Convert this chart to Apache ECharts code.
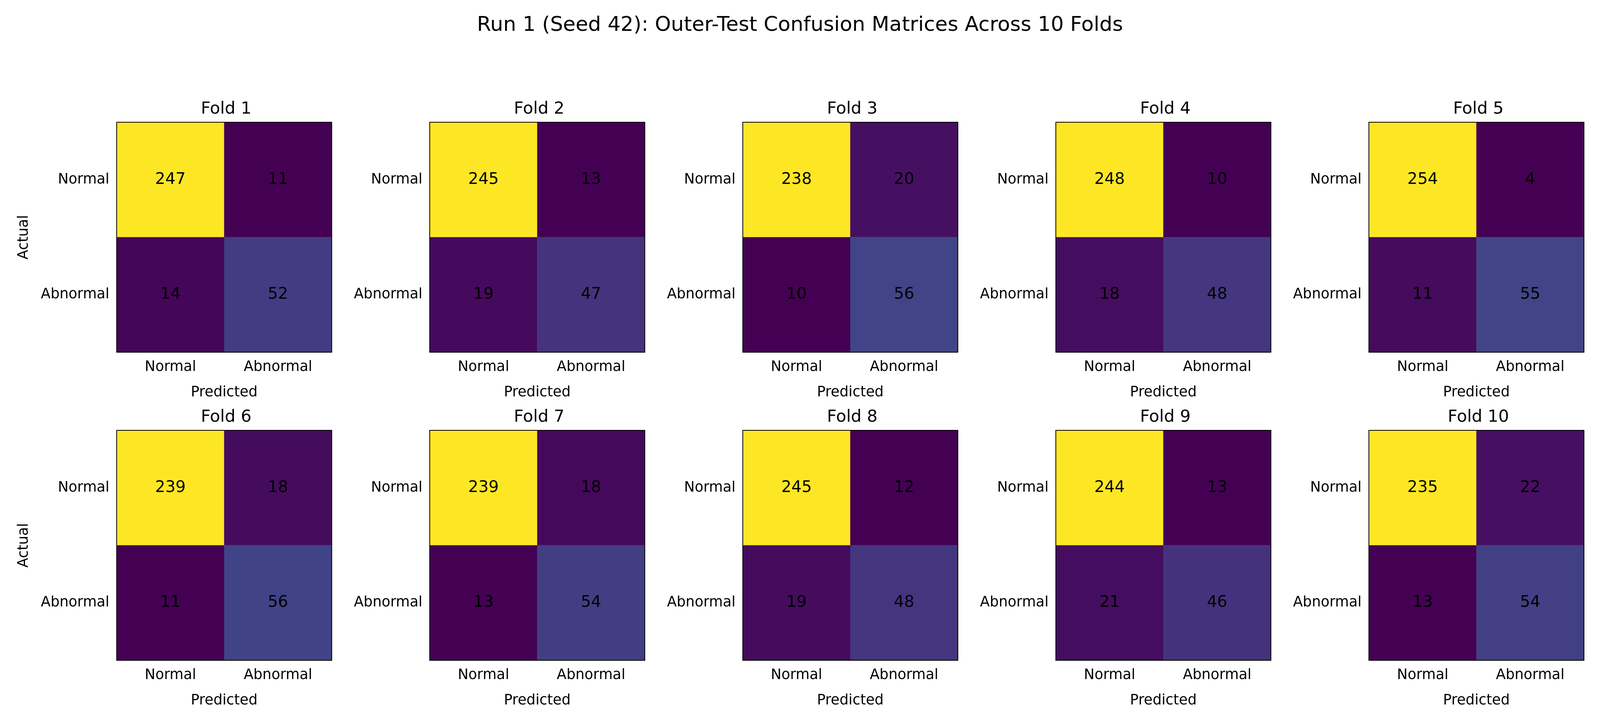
<!DOCTYPE html>
<html>
<head>
    <meta charset="utf-8">
    <title>Confusion Matrices</title>
    <script src="https://cdn.jsdelivr.net/npm/echarts@6/dist/echarts.min.js"></script>
    <style>html,body{margin:0;padding:0;background:#fff;overflow:hidden;}</style>
</head>
<body>
    <div id="main" style="width:100vw;height:100vh;"></div>
    <script type="text/javascript">
        var classes = ['Normal', 'Abnormal'];
        var foldNames = ['Fold 1', 'Fold 2', 'Fold 3', 'Fold 4', 'Fold 5',
                         'Fold 6', 'Fold 7', 'Fold 8', 'Fold 9', 'Fold 10'];
        // [[TN, FP], [FN, TP]] per fold
        var fold1 = [[247, 11], [14, 52]];
        var fold2 = [[245, 13], [19, 47]];
        var fold3 = [[238, 20], [10, 56]];
        var fold4 = [[248, 10], [18, 48]];
        var fold5 = [[254, 4], [11, 55]];
        var fold6 = [[239, 18], [11, 56]];
        var fold7 = [[239, 18], [13, 54]];
        var fold8 = [[245, 12], [19, 48]];
        var fold9 = [[244, 13], [21, 46]];
        var fold10 = [[235, 22], [13, 54]];
        var folds = [fold1, fold2, fold3, fold4, fold5, fold6, fold7, fold8, fold9, fold10];

        var viridis = ['#440154', '#482475', '#414487', '#355f8d', '#2a788e', '#21918c',
                       '#22a884', '#44bf70', '#7ad151', '#bddf26', '#fde725'];
        var font = 'DejaVu Sans';

        var chart = echarts.init(document.getElementById('main'));
        // reference layout is 4389 x 1831; scale to the actual page
        var sx = chart.getWidth() / 4389, sy = chart.getHeight() / 1831;
        var s = Math.min(sx, sy);
        var grid = [], xAxis = [], yAxis = [], series = [], visualMap = [];
        var title = [{
            text: 'Run 1 (Seed 42): Outer-Test Confusion Matrices Across 10 Folds',
            left: 'center', top: 34 * sy,
            textStyle: {fontFamily: font, fontSize: 56 * s, fontWeight: 'normal', color: '#000'}
        }];

        folds.forEach(function (m, i) {
            var col = i % 5, row = Math.floor(i / 5);
            var left = (320 + col * 858.75) * sx, top = (row === 0 ? 313 : 1102) * sy;
            var w = 590 * sx, h = 589 * sy;
            grid.push({left: left, top: top, width: w, height: h,
                       show: true, borderColor: '#000', borderWidth: 2, z: 10});
            title.push({text: foldNames[i], left: left + w / 2, top: top - 60 * sy, textAlign: 'center',
                        textStyle: {fontFamily: font, fontSize: 46 * s, fontWeight: 'normal', color: '#000'}});
            xAxis.push({type: 'category', data: classes, gridIndex: i,
                        name: 'Predicted', nameLocation: 'middle', nameGap: 92 * s,
                        nameTextStyle: {fontFamily: font, fontSize: 39 * s, color: '#000'},
                        axisLine: {show: false},
                        axisTick: {alignWithLabel: true, length: 13 * s, lineStyle: {color: '#000', width: 2}},
                        axisLabel: {fontFamily: font, fontSize: 39 * s, color: '#000', margin: 22 * s},
                        splitLine: {show: false}});
            yAxis.push({type: 'category', data: classes, gridIndex: i, inverse: true,
                        name: col === 0 ? 'Actual' : '', nameLocation: 'middle', nameGap: 235 * s,
                        nameTextStyle: {fontFamily: font, fontSize: 39 * s, color: '#000'},
                        axisLine: {show: false},
                        axisTick: {alignWithLabel: true, length: 13 * s, lineStyle: {color: '#000', width: 2}},
                        axisLabel: {fontFamily: font, fontSize: 39 * s, color: '#000', margin: 20 * s},
                        splitLine: {show: false}});
            var data = [], vals = [];
            for (var r = 0; r < 2; r++) {
                for (var c = 0; c < 2; c++) {
                    data.push([c, r, m[r][c]]);
                    vals.push(m[r][c]);
                }
            }
            series.push({type: 'heatmap', xAxisIndex: i, yAxisIndex: i, data: data,
                         label: {show: true, fontFamily: font, fontSize: 44 * s, color: '#000'},
                         itemStyle: {borderWidth: 0}, emphasis: {disabled: true}});
            visualMap.push({show: false, seriesIndex: i, dimension: 2,
                            min: Math.min.apply(null, vals), max: Math.max.apply(null, vals),
                            inRange: {color: viridis}});
        });

        chart.setOption({
            animation: false,
            backgroundColor: '#fff',
            title: title,
            grid: grid,
            xAxis: xAxis,
            yAxis: yAxis,
            visualMap: visualMap,
            series: series
        });
    </script>
</body>
</html>
